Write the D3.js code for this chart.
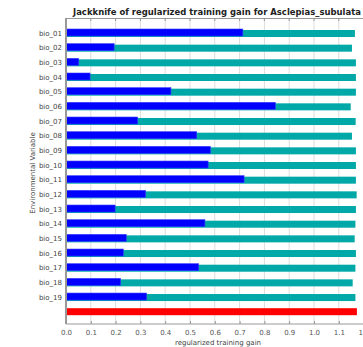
<!DOCTYPE html>
<html>
<head>
<meta charset="utf-8">
<script src="https://cdn.jsdelivr.net/npm/d3@7"></script>
<style>
  html, body { margin: 0; padding: 0; background: #fff; }
  svg { display: block; font-family: "DejaVu Sans", sans-serif; }
</style>
</head>
<body>
<svg id="chart" width="363" height="347"></svg>
<script>
// Jackknife results per environmental variable (regularized training gain)
const variables = ["bio_01","bio_02","bio_03","bio_04","bio_05","bio_06","bio_07","bio_08","bio_09","bio_10",
                   "bio_11","bio_12","bio_13","bio_14","bio_15","bio_16","bio_17","bio_18","bio_19"];
const withoutVariable = [1.165,1.153,1.169,1.169,1.169,1.148,1.168,1.153,1.169,1.169,
                         1.169,1.172,1.169,1.167,1.164,1.169,1.167,1.156,1.167];
const withOnlyVariable = [0.713,0.194,0.051,0.097,0.423,0.844,0.289,0.527,0.582,0.573,
                          0.718,0.321,0.198,0.560,0.243,0.231,0.535,0.220,0.325];
const allVariablesGain = 1.173;
const xTicks = [0,0.1,0.2,0.3,0.4,0.5,0.6,0.7,0.8,0.9,1.0,1.1,1.2];

const svg = d3.select("#chart");
const W = 363, H = 347;
const plotLeft = 66, plotTop = 18, plotBottom = 324;

const rows = variables.concat(["all"]);
const x = d3.scaleLinear().domain([0, 1.2]).range([plotLeft, plotLeft + 1.2 * 248]);
const y = d3.scalePoint().domain(rows).range([33, 311.7]);
const barH = 7;

// vertical grid
svg.append("g").selectAll("line").data(xTicks.slice(1)).join("line")
  .attr("x1", d => x(d)).attr("x2", d => x(d)).attr("y1", plotTop).attr("y2", plotBottom)
  .attr("stroke", "#dcdcdc").attr("stroke-width", 1);

// top frame with small ticks
svg.append("line").attr("x1", plotLeft).attr("x2", W + 5).attr("y1", plotTop + 0.5).attr("y2", plotTop + 0.5)
  .attr("stroke", "#999");
svg.append("g").selectAll("line").data(xTicks).join("line")
  .attr("x1", d => x(d)).attr("x2", d => x(d)).attr("y1", plotTop).attr("y2", plotTop + 3)
  .attr("stroke", "#999");

// bars: without variable (teal), with only variable (blue), all variables (red)
svg.append("g").selectAll("rect").data(variables).join("rect")
  .attr("x", x(0)).attr("y", d => y(d) - barH / 2 + 0.5)
  .attr("width", (d, i) => x(withoutVariable[i]) - x(0)).attr("height", barH)
  .attr("fill", "#00a8a8");
svg.append("g").selectAll("rect").data(variables).join("rect")
  .attr("x", x(0)).attr("y", d => y(d) - barH / 2 - 0.5)
  .attr("width", (d, i) => x(withOnlyVariable[i]) - x(0)).attr("height", barH)
  .attr("fill", "#0000ff").attr("stroke", "#3a3aff").attr("stroke-width", 0.6);
svg.append("rect").attr("x", x(0)).attr("y", y("all") - barH / 2)
  .attr("width", x(allVariablesGain) - x(0)).attr("height", barH).attr("fill", "#ff0000");

// left and bottom axis lines
svg.append("line").attr("x1", plotLeft).attr("x2", plotLeft).attr("y1", plotTop).attr("y2", plotBottom)
  .attr("stroke", "#999").attr("stroke-width", 2);
svg.append("line").attr("x1", plotLeft).attr("x2", W + 5).attr("y1", plotBottom).attr("y2", plotBottom)
  .attr("stroke", "#999").attr("stroke-width", 1);

// x axis ticks and labels
const xAxis = d3.axisBottom(x).tickValues(xTicks).tickFormat(d3.format(".1f")).tickSize(3).tickSizeOuter(0);
const gx = svg.append("g").attr("transform", `translate(0,${plotBottom})`).call(xAxis);
gx.select(".domain").remove();
gx.selectAll(".tick line").attr("y2", -3).attr("stroke", "#999");
gx.selectAll(".tick text").attr("y", 6).attr("font-size", 7).attr("fill", "#555")
  .attr("font-family", "DejaVu Sans");

// y labels
const yAxis = d3.axisLeft(y).tickValues(variables).tickSize(0).tickPadding(4);
const gy = svg.append("g").attr("transform", `translate(${plotLeft},0)`).call(yAxis);
gy.select(".domain").remove();
gy.selectAll(".tick text").attr("font-size", 7).attr("fill", "#444").attr("font-family", "DejaVu Sans");

// titles
svg.append("text").attr("x", 73).attr("y", 14.5).attr("font-size", 8.5).attr("font-weight", "bold")
  .attr("fill", "#222").attr("textLength", 288).attr("lengthAdjust", "spacingAndGlyphs")
  .text("Jackknife of regularized training gain for Asclepias_subulata");
svg.append("text").attr("x", 218).attr("y", 345).attr("text-anchor", "middle").attr("font-size", 7)
  .attr("fill", "#444").text("regularized training gain");
svg.append("text").attr("transform", "translate(35,173) rotate(-90)").attr("text-anchor", "middle")
  .attr("font-size", 7).attr("fill", "#444").text("Environmental Variable");
</script>
</body>
</html>
